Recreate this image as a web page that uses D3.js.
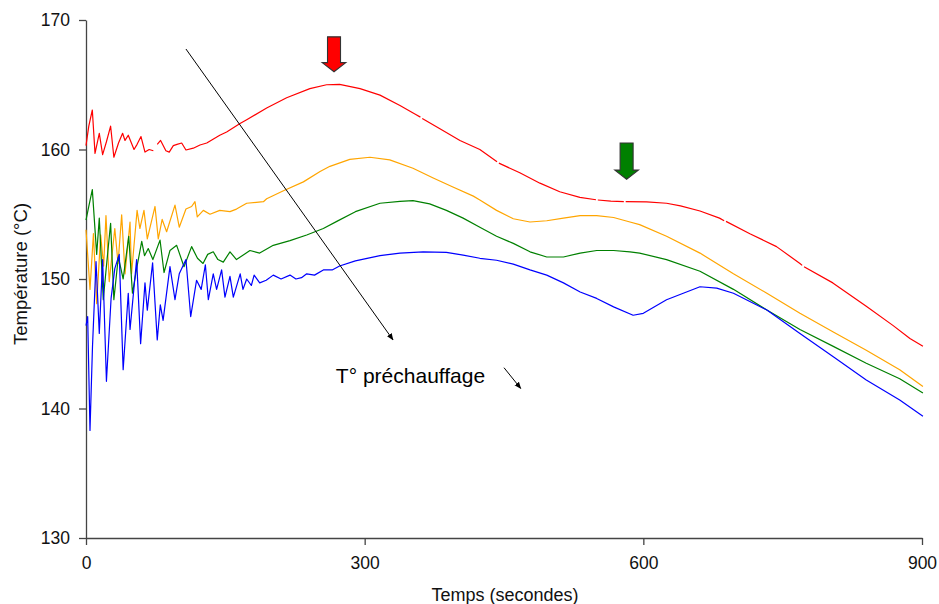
<!DOCTYPE html>
<html>
<head>
<meta charset="utf-8">
<script src="https://cdn.jsdelivr.net/npm/d3@7"></script>
<style>
  html, body { margin: 0; padding: 0; background: #fff; }
  svg { display: block; font-family: "Liberation Sans", Arial, sans-serif; }
</style>
</head>
<body>
<svg id="chart" width="939" height="604"></svg>
<script>
// ---- data (time in seconds, temperature in °C); null = gap in the record ----
const xTicks = [0, 300, 600, 900];
const yTicks = [130, 140, 150, 160, 170];

const redSeries = [
  [0,160.3],[3,161.8],[6.8,163.05],[9.7,159.7],[14.3,161.25],[17.9,159.6],[22,160.6],[26.5,161.8],[30,159.4],[35,160.5],
  [39.4,161.25],[42,160.7],[45.5,161.1],[51.7,160.0],[55,160.4],[59.2,161.0],[63.5,159.8],[68,160.0],[72.5,159.9],[74.5,null],
  [76.7,160.4],[80.3,160.7],[86,159.9],[89.6,159.8],[94,160.3],[98,160.4],[103,160.5],[107.6,159.96],[115.5,160.1],[122.7,160.35],
  [130,160.5],[144,161.1],[151.4,161.35],[165.8,162.0],[173,162.3],[194.5,163.2],[216,164.0],[241,164.7],
  [259,165.0],[273,165.03],[295,164.7],[316.5,164.2],[338,163.4],[355,162.7],[360,162.5],[361,null],[362,162.4],
  [381,161.6],[402.6,160.7],[424,160.0],[442.5,159.05],[443.5,null],[444.5,158.95],[467,158.2],[488.7,157.4],[510,156.74],
  [531.7,156.3],[549,156.12],[550,null],[551,156.1],[565,156.02],[579,155.98],[580,null],[581,155.97],[603.5,155.95],
  [625,155.85],[640,155.65],[661,155.25],[682,154.7],[687,154.5],[688,null],[689,154.45],[714.7,153.5],[743.4,152.5],
  [768.6,151.2],[771,151.05],[772,null],[773,150.95],[804,149.7],[840,147.9],[869,146.4],[887,145.4],[901,144.8]
];

const orangeSeries = [
  [0,153.8],[4.3,149.2],[8,153.5],[11.5,148.1],[15.8,153.4],[19,151.0],[21.5,154.9],[25,149.8],[31,153.9],[34.5,151.2],
  [38.4,154.95],[42,150.4],[47.4,154.4],[49,150.4],[55,155.3],[58,153.9],[62.4,155.3],[66,153.1],[74.3,155.6],[77.8,153.1],
  [82,154.6],[86.8,153.65],[95.8,155.7],[100.4,154.0],[107.6,155.4],[113.7,155.6],[117.3,155.97],[119.8,154.8],[126.3,155.3],
  [133.5,155.0],[144,155.3],[155,155.2],[162,155.4],[173,155.85],[191,155.97],[194.5,156.2],[212,156.8],[234,157.5],
  [252,158.3],[262.6,158.7],[284,159.24],[305.7,159.4],[327,159.2],[352,158.55],[373.8,157.8],[395,157.1],[417,156.4],
  [424,156.1],[442,155.3],[460,154.65],[478,154.4],[496,154.5],[514,154.7],[532,154.9],[549.8,154.9],[568,154.75],
  [585.6,154.4],[596,154.2],[625,153.3],[661,152.0],[697,150.4],[733,148.9],[768.6,147.35],[804.5,145.9],[840,144.5],
  [876,143.0],[901,141.7]
];

const greenSeries = [
  [0,154.55],[3,155.6],[6.8,156.9],[11.5,151.9],[14.3,154.7],[18.6,148.4],[22,151.0],[26.5,154.3],[30,148.4],[34.8,151.7],
  [40,150.0],[46,153.3],[50,148.9],[55,151.0],[60,152.9],[63,151.8],[67,152.35],[72,151.5],[79.7,153.0],[84,150.5],
  [90.4,152.2],[97.6,152.6],[105.5,150.95],[113.7,152.5],[120,151.6],[126,151.2],[131,151.9],[137,152.1],[142,151.5],
  [147.8,151.3],[155,152.1],[162,151.5],[176.5,152.2],[187,152.0],[201.6,152.6],[219.6,152.96],[237.6,153.4],[255.5,153.9],
  [270,154.45],[290,155.2],[316.5,155.85],[338,156.0],[352,156.05],[370,155.8],[388,155.3],[406,154.7],[424,154.0],
  [442,153.3],[460,152.75],[478,152.1],[496,151.7],[514,151.7],[532,152.0],[549.8,152.2],[568,152.2],[585.6,152.1],
  [596,152.0],[625,151.5],[661,150.6],[697,149.2],[733,147.6],[768.6,146.1],[804.5,144.8],[840,143.5],[876,142.3],[901,141.2]
];

const blueSeries = [
  [0,146.4],[1.8,147.1],[4.3,138.3],[7,144.8],[10.8,151.35],[14.3,145.8],[17.9,151.5],[22,142.1],[27,148.5],[31,150.8],
  [35.8,151.9],[40,143.0],[45.5,148.9],[47.4,146.1],[54.5,151.5],[58.8,145.0],[63.5,149.7],[66,147.6],[71.7,151.25],
  [76.7,145.3],[80,148.0],[83,146.8],[90.4,150.95],[95.8,148.4],[100.4,150.4],[107.6,151.5],[112.7,147.1],[119,149.9],
  [124,149.2],[128.5,151.1],[131.7,148.4],[137,150.4],[140.6,149.2],[146,150.7],[149.6,148.6],[155,150.2],[158.6,148.6],
  [166,150.4],[169,149.2],[173,150.0],[178,149.5],[181,150.3],[187,149.7],[194,149.9],[201.6,150.3],[210,150.0],
  [219.6,150.3],[226,150.0],[232,150.1],[237.6,150.4],[246,150.3],[255.5,150.7],[265,150.7],[273,151.0],[290,151.4],
  [316.5,151.8],[338,152.0],[363,152.1],[388,152.06],[406,151.85],[424,151.6],[442,151.45],[460,151.15],[478,150.7],
  [496,150.3],[514,149.7],[532,149.0],[549.8,148.5],[568,147.85],[589,147.2],[600,147.35],[625,148.4],[661,149.4],
  [679,149.3],[697,148.9],[733,147.6],[768.6,145.8],[804.5,144.0],[840,142.2],[876,140.65],[901,139.4]
];

const seriesNames = ["rouge", "orange", "vert", "bleu"];
const seriesColors = ["#ff0000", "#ffa500", "#008000", "#0000ff"];
const seriesData = [redSeries, orangeSeries, greenSeries, blueSeries];

// annotations (data coordinates)
const blockArrows = [
  { t: 267, top: 168.7, tip: 166.0, fill: "#ff0000" },
  { t: 582, top: 160.5, tip: 157.7, fill: "#008000" }
];
const diagonalArrow = { t1: 107.6, v1: 167.76, t2: 330.5, v2: 145.3 };
const smallArrow = { t1: 450, v1: 143.15, t2: 468, v2: 141.55 };
const annotationText = { t: 269, v: 142.0, label: "T° préchauffage" };
const xTitle = "Temps (secondes)";
const yTitle = "Température (°C)";

// ---- drawing ----
const W = 939, H = 604;
const margin = { left: 86, right: 17, top: 20, bottom: 66 };
const svg = d3.select("#chart");

const x = d3.scaleLinear().domain([0, 900]).range([margin.left, W - margin.right]);
const y = d3.scaleLinear().domain([130, 170]).range([H - margin.bottom, margin.top]);

const axisColor = "#444";
const tickFont = "17.5px";

// Y axis
const yAxis = svg.append("g")
  .attr("transform", `translate(${margin.left},0)`)
  .call(d3.axisLeft(y).tickValues(yTicks).tickSize(7).tickSizeOuter(0).tickPadding(9).tickFormat(d3.format("d")));
yAxis.select(".domain").attr("stroke", axisColor).attr("stroke-width", 1.3);
yAxis.selectAll(".tick line").attr("stroke", axisColor).attr("stroke-width", 1.3);
yAxis.selectAll(".tick text").attr("fill", "#111").style("font-size", tickFont)
  .style("font-family", '"Liberation Sans", Arial, sans-serif');

// X axis
const xAxis = svg.append("g")
  .attr("transform", `translate(0,${y(130)})`)
  .call(d3.axisBottom(x).tickValues(xTicks).tickSize(7).tickSizeOuter(0).tickPadding(12).tickFormat(d3.format("d")));
xAxis.select(".domain").attr("stroke", axisColor).attr("stroke-width", 1.3);
xAxis.selectAll(".tick line").attr("stroke", axisColor).attr("stroke-width", 1.3);
xAxis.selectAll(".tick text").attr("fill", "#111").style("font-size", tickFont)
  .style("font-family", '"Liberation Sans", Arial, sans-serif');

// Axis titles
svg.append("text")
  .attr("x", (x(0) + x(900)) / 2 + 1).attr("y", 601)
  .attr("text-anchor", "middle").attr("fill", "#111")
  .style("font-size", "18px").text(xTitle);

svg.append("text")
  .attr("transform", `translate(27,${(y(130) + y(170)) / 2 - 5}) rotate(-90)`)
  .attr("text-anchor", "middle").attr("fill", "#111")
  .style("font-size", "18.5px").text(yTitle);

// Series lines
const line = d3.line()
  .defined(d => d[1] !== null)
  .x(d => x(d[0])).y(d => y(d[1]));

svg.append("g").selectAll("path")
  .data(seriesData)
  .join("path")
  .attr("fill", "none")
  .attr("stroke", (d, i) => seriesColors[i])
  .attr("stroke-width", 1.2)
  .attr("stroke-linejoin", "round")
  .attr("d", line)
  .append("title").text((d, i) => seriesNames[i]);

// Markers for arrowheads
const defs = svg.append("defs");
defs.append("marker")
  .attr("id", "ah").attr("viewBox", "0 0 10 10")
  .attr("refX", 9).attr("refY", 5)
  .attr("markerWidth", 7).attr("markerHeight", 7)
  .attr("markerUnits", "userSpaceOnUse")
  .attr("orient", "auto")
  .append("path").attr("d", "M0,1 L10,5 L0,9 Z").attr("fill", "#000");

// Diagonal arrow
svg.append("line")
  .attr("x1", x(diagonalArrow.t1)).attr("y1", y(diagonalArrow.v1))
  .attr("x2", x(diagonalArrow.t2)).attr("y2", y(diagonalArrow.v2))
  .attr("stroke", "#000").attr("stroke-width", 1)
  .attr("marker-end", "url(#ah)");

// Small arrow
svg.append("line")
  .attr("x1", x(smallArrow.t1)).attr("y1", y(smallArrow.v1))
  .attr("x2", x(smallArrow.t2)).attr("y2", y(smallArrow.v2))
  .attr("stroke", "#000").attr("stroke-width", 1)
  .attr("marker-end", "url(#ah)");

// Annotation text
svg.append("text")
  .attr("x", x(annotationText.t)).attr("y", y(annotationText.v))
  .attr("fill", "#000")
  .style("font-size", "21px").text(annotationText.label);

// Block arrows (shaft 13px, head 24px wide, 9px tall)
const shaftHalf = 6.5, headHalf = 11.8, headH = 9.2;
svg.append("g").selectAll("path")
  .data(blockArrows)
  .join("path")
  .attr("d", d => {
    const cx = x(d.t), yt = y(d.top), yp = y(d.tip), yh = yp - headH;
    return `M${cx - shaftHalf},${yt} L${cx + shaftHalf},${yt} L${cx + shaftHalf},${yh} L${cx + headHalf},${yh}` +
           ` L${cx},${yp} L${cx - headHalf},${yh} L${cx - shaftHalf},${yh} Z`;
  })
  .attr("fill", d => d.fill)
  .attr("stroke", "#333")
  .attr("stroke-width", 1.1)
  .attr("stroke-linejoin", "miter");
</script>
</body>
</html>
